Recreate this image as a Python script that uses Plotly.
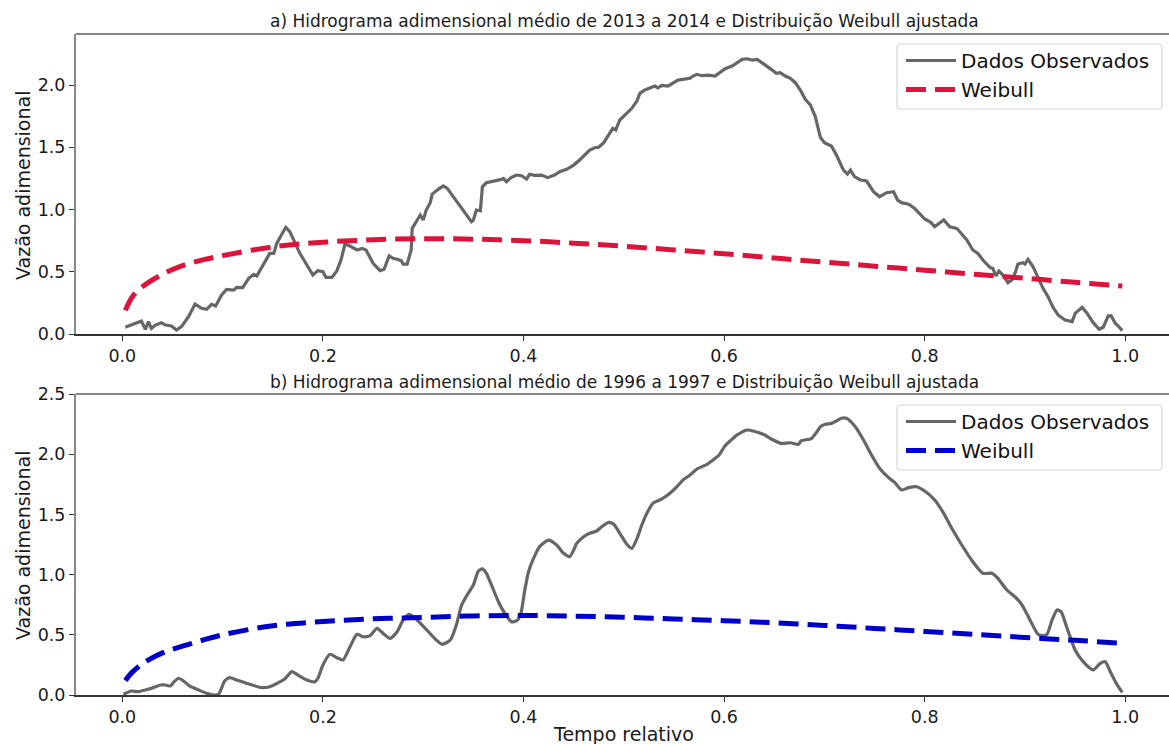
import plotly.graph_objects as go

# ---- (a) 2013-2014 ----
t_obs_a = [0.003, 0.011, 0.019, 0.023, 0.026, 0.029, 0.033, 0.039, 0.043, 0.049, 0.054, 0.059, 0.066, 0.0725,
           0.079, 0.084, 0.089, 0.093, 0.099, 0.104, 0.111, 0.114, 0.12, 0.126, 0.131, 0.134, 0.139, 0.144,
           0.147, 0.151, 0.154, 0.158, 0.163, 0.167, 0.172, 0.177, 0.184, 0.19, 0.195, 0.2, 0.203, 0.209,
           0.214, 0.218, 0.222, 0.227, 0.234, 0.239, 0.243, 0.25, 0.257, 0.261, 0.266, 0.27, 0.274, 0.278,
           0.28, 0.284, 0.288, 0.289, 0.293, 0.297, 0.3, 0.303, 0.307, 0.309, 0.315, 0.32, 0.324, 0.33,
           0.337, 0.343, 0.348, 0.35, 0.353, 0.357, 0.359, 0.363, 0.368, 0.373, 0.378, 0.38, 0.383, 0.388,
           0.393, 0.398, 0.403, 0.406, 0.411, 0.418, 0.424, 0.431, 0.436, 0.443, 0.45, 0.456, 0.461, 0.466,
           0.471, 0.475, 0.48, 0.485, 0.489, 0.492, 0.496, 0.501, 0.508, 0.513, 0.516, 0.521, 0.526, 0.531,
           0.534, 0.538, 0.544, 0.549, 0.554, 0.559, 0.563, 0.566, 0.569, 0.573, 0.578, 0.584, 0.591, 0.596,
           0.601, 0.608, 0.613, 0.618, 0.623, 0.628, 0.633, 0.638, 0.643, 0.647, 0.652, 0.656, 0.661, 0.666,
           0.671, 0.676, 0.681, 0.686, 0.691, 0.696, 0.7, 0.707, 0.712, 0.719, 0.723, 0.726, 0.73, 0.736,
           0.742, 0.749, 0.755, 0.762, 0.769, 0.773, 0.777, 0.784, 0.79, 0.8, 0.806, 0.81, 0.819, 0.825,
           0.832, 0.842, 0.848, 0.853, 0.858, 0.865, 0.868, 0.871, 0.874, 0.878, 0.883, 0.887, 0.89, 0.893,
           0.898, 0.9, 0.903, 0.908, 0.913, 0.918, 0.923, 0.928, 0.933, 0.94, 0.947, 0.95, 0.957, 0.962,
           0.968, 0.974, 0.978, 0.983, 0.986, 0.99, 0.993, 0.997]
q_obs_a = [0.054, 0.08, 0.104, 0.037, 0.099, 0.045, 0.072, 0.091, 0.072, 0.064, 0.032, 0.059, 0.139, 0.241,
           0.206, 0.198, 0.238, 0.225, 0.313, 0.359, 0.353, 0.375, 0.372, 0.447, 0.479, 0.466, 0.54, 0.616,
           0.648, 0.648, 0.728, 0.787, 0.857, 0.822, 0.728, 0.648, 0.554, 0.474, 0.509, 0.5, 0.455, 0.455,
           0.509, 0.594, 0.723, 0.707, 0.675, 0.688, 0.675, 0.568, 0.509, 0.52, 0.627, 0.608, 0.6, 0.589,
           0.562, 0.562, 0.675, 0.849, 0.902, 0.956, 0.916, 0.996, 1.055, 1.124, 1.162, 1.189, 1.17, 1.103,
           1.025, 0.948, 0.902, 0.916, 0.996, 0.99, 1.183, 1.215, 1.223, 1.237, 1.242, 1.25, 1.223, 1.258,
           1.277, 1.271, 1.245, 1.283, 1.274, 1.277, 1.256, 1.277, 1.304, 1.323, 1.357, 1.398, 1.438, 1.478,
           1.496, 1.5, 1.537, 1.598, 1.652, 1.639, 1.719, 1.759, 1.813, 1.871, 1.933, 1.96, 1.978, 1.992,
           1.978, 1.997, 1.992, 2.014, 2.04, 2.046, 2.054, 2.054, 2.072, 2.086, 2.075, 2.08, 2.072, 2.099,
           2.131, 2.153, 2.179, 2.206, 2.211, 2.201, 2.206, 2.179, 2.155, 2.126, 2.094, 2.099, 2.072, 2.054,
           2.019, 1.96, 1.885, 1.84, 1.745, 1.58, 1.537, 1.51, 1.438, 1.317, 1.285, 1.317, 1.264, 1.237,
           1.229, 1.143, 1.103, 1.135, 1.143, 1.076, 1.055, 1.042, 1.009, 0.924, 0.897, 0.862, 0.916, 0.862,
           0.849, 0.755, 0.675, 0.648, 0.594, 0.536, 0.527, 0.466, 0.506, 0.474, 0.412, 0.434, 0.487, 0.562,
           0.573, 0.562, 0.6, 0.541, 0.455, 0.367, 0.3, 0.214, 0.153, 0.112, 0.099, 0.166, 0.214, 0.166,
           0.091, 0.038, 0.054, 0.145, 0.145, 0.086, 0.064, 0.027]

# ---- (b) 1996-1997 ----
t_obs_b = [0.001, 0.009, 0.016, 0.023, 0.029, 0.038, 0.043, 0.048, 0.051, 0.056, 0.061, 0.067, 0.076, 0.084,
           0.092, 0.096, 0.102, 0.107, 0.114, 0.127, 0.139, 0.147, 0.156, 0.162, 0.169, 0.175, 0.184, 0.192,
           0.195, 0.2, 0.207, 0.214, 0.22, 0.227, 0.234, 0.24, 0.247, 0.254, 0.26, 0.267, 0.274, 0.28,
           0.286, 0.292, 0.302, 0.312, 0.319, 0.327, 0.333, 0.338, 0.343, 0.35, 0.355, 0.359, 0.363, 0.368,
           0.375, 0.382, 0.388, 0.393, 0.397, 0.401, 0.405, 0.41, 0.416, 0.425, 0.433, 0.44, 0.446, 0.45,
           0.453, 0.46, 0.466, 0.473, 0.478, 0.485, 0.49, 0.496, 0.503, 0.508, 0.513, 0.518, 0.523, 0.529,
           0.538, 0.546, 0.553, 0.559, 0.566, 0.573, 0.583, 0.589, 0.595, 0.601, 0.606, 0.613, 0.623, 0.629,
           0.639, 0.649, 0.657, 0.666, 0.674, 0.677, 0.687, 0.692, 0.696, 0.701, 0.707, 0.712, 0.717, 0.722,
           0.727, 0.732, 0.739, 0.747, 0.755, 0.764, 0.77, 0.777, 0.784, 0.792, 0.8, 0.81, 0.819, 0.827,
           0.837, 0.848, 0.858, 0.867, 0.873, 0.882, 0.89, 0.897, 0.905, 0.913, 0.918, 0.922, 0.927, 0.932,
           0.936, 0.942, 0.95, 0.958, 0.968, 0.975, 0.98, 0.985, 0.991, 0.997]
q_obs_b = [0.006, 0.033, 0.028, 0.042, 0.055, 0.083, 0.083, 0.075, 0.105, 0.139, 0.116, 0.075, 0.042, 0.014,
           0.0, 0.006, 0.116, 0.144, 0.125, 0.089, 0.061, 0.069, 0.105, 0.133, 0.194, 0.166, 0.125, 0.11,
           0.139, 0.249, 0.338, 0.31, 0.291, 0.401, 0.504, 0.484, 0.493, 0.554, 0.512, 0.471, 0.526, 0.623,
           0.67, 0.637, 0.554, 0.465, 0.421, 0.457, 0.581, 0.74, 0.82, 0.914, 1.03, 1.047, 1.011, 0.914,
           0.775, 0.67, 0.609, 0.615, 0.664, 0.858, 1.024, 1.135, 1.232, 1.287, 1.246, 1.177, 1.149, 1.204,
           1.26, 1.315, 1.343, 1.362, 1.398, 1.434, 1.418, 1.343, 1.252, 1.218, 1.296, 1.412, 1.509, 1.592,
           1.628, 1.675, 1.73, 1.786, 1.827, 1.877, 1.916, 1.952, 1.993, 2.071, 2.11, 2.16, 2.201, 2.193,
           2.165, 2.118, 2.09, 2.095, 2.082, 2.112, 2.13, 2.18, 2.228, 2.248, 2.256, 2.276, 2.298, 2.298,
           2.265, 2.215, 2.118, 1.993, 1.883, 1.805, 1.766, 1.703, 1.722, 1.73, 1.694, 1.62, 1.509, 1.385,
           1.246, 1.107, 1.011, 1.011, 0.969, 0.872, 0.816, 0.748, 0.623, 0.504, 0.493, 0.504, 0.623, 0.706,
           0.692, 0.554, 0.374, 0.277, 0.208, 0.263, 0.277, 0.194, 0.097, 0.022]

# fitted Weibull curves
t_fit = [0.003, 0.01, 0.02, 0.04, 0.06, 0.08, 0.1, 0.15, 0.2, 0.25, 0.3, 0.35, 0.4, 0.45, 0.5, 0.55,
         0.6, 0.65, 0.7, 0.75, 0.8, 0.85, 0.9, 0.95, 0.997]
q_fit_a = [0.19, 0.30, 0.38, 0.48, 0.55, 0.595, 0.63, 0.70, 0.737, 0.757, 0.766, 0.762, 0.75, 0.73, 0.705,
           0.675, 0.645, 0.61, 0.578, 0.545, 0.513, 0.48, 0.448, 0.415, 0.385]
q_fit_b = [0.12, 0.19, 0.26, 0.35, 0.405, 0.455, 0.50, 0.575, 0.61, 0.633, 0.644, 0.657, 0.66, 0.655, 0.645,
           0.632, 0.617, 0.6, 0.578, 0.553, 0.528, 0.503, 0.478, 0.454, 0.43]

titles = ["a) Hidrograma adimensional médio de 2013 a 2014 e Distribuição Weibull ajustada",
          "b) Hidrograma adimensional médio de 1996 a 1997 e Distribuição Weibull ajustada"]
x_ticks = [0.0, 0.2, 0.4, 0.6, 0.8, 1.0]
y_ticks_a = [0.0, 0.5, 1.0, 1.5, 2.0]
y_ticks_b = [0.0, 0.5, 1.0, 1.5, 2.0, 2.5]

W, H = 1169, 744
FONT = "DejaVu Sans"
GRAY = "#666666"

fig = go.Figure()

fig.add_trace(go.Scatter(x=t_obs_a, y=q_obs_a, mode="lines", name="Dados Observados",
                         line=dict(color=GRAY, width=3.2), xaxis="x", yaxis="y", legend="legend"))
fig.add_trace(go.Scatter(x=t_fit, y=q_fit_a, mode="lines", name="Weibull",
                         line=dict(color="#DC143C", width=5, dash="20px,9px", shape="spline"),
                         xaxis="x", yaxis="y", legend="legend"))
fig.add_trace(go.Scatter(x=t_obs_b, y=q_obs_b, mode="lines", name="Dados Observados",
                         line=dict(color=GRAY, width=3.2, shape="spline", smoothing=0.6),
                         xaxis="x2", yaxis="y2", legend="legend2"))
fig.add_trace(go.Scatter(x=t_fit, y=q_fit_b, mode="lines", name="Weibull",
                         line=dict(color="#0000CD", width=5, dash="20px,9px", shape="spline"),
                         xaxis="x2", yaxis="y2", legend="legend2"))

x0_px = 76
xdom = [x0_px / W, 1.0]
ydom_a = [(H - 334) / H, (H - 34) / H]
ydom_b = [(H - 695) / H, (H - 394) / H]
xrange_ = [-0.0462, 1.0436]

def xaxis_cfg(anchor):
    return dict(domain=xdom, range=xrange_, anchor=anchor, tickvals=x_ticks,
                ticktext=[f"{v:.1f}" for v in x_ticks], showgrid=False, zeroline=False,
                showline=True, linecolor="#333333", linewidth=1.5, mirror=False,
                ticks="outside", ticklen=5, tickwidth=1.2, tickcolor="#333333",
                tickfont=dict(family=FONT, size=17.5, color="#1a1a1a"), automargin=False)

def yaxis_cfg(anchor, dom, rng, ticks):
    return dict(domain=dom, range=rng, anchor=anchor, tickvals=ticks,
                ticktext=[f"{v:.1f}" for v in ticks], showgrid=False, zeroline=False,
                showline=True, linecolor="#888888", linewidth=2, mirror=False,
                ticks="outside", ticklen=5, tickwidth=1.2, tickcolor="#333333",
                tickfont=dict(family=FONT, size=17.5, color="#1a1a1a"), automargin=False)

legend_style = dict(bgcolor="rgba(0,0,0,0)", borderwidth=0,
                    font=dict(family=FONT, size=20, color="#111111"), xanchor="left", yanchor="top",
                    x=901 / W, tracegroupgap=0, itemwidth=50)

fig.update_layout(
    width=W, height=H, margin=dict(l=0, r=0, t=0, b=0),
    paper_bgcolor="white", plot_bgcolor="white",
    font=dict(family=FONT, color="#1a1a1a"),
    xaxis=xaxis_cfg("y"), yaxis=yaxis_cfg("x", ydom_a, [0, 2.41], y_ticks_a),
    xaxis2=xaxis_cfg("y2"), yaxis2=yaxis_cfg("x2", ydom_b, [0, 2.5], y_ticks_b),
    legend=dict(**legend_style, y=(H - 41) / H),
    legend2=dict(**legend_style, y=(H - 402) / H),
)

# top spines
for xr, yr in (("x domain", "y domain"), ("x2 domain", "y2 domain")):
    fig.add_shape(type="line", xref=xr, yref=yr, x0=0, x1=1, y0=1, y1=1,
                  line=dict(color="#888888", width=2))

# rounded legend frames
def frame(x0, y0, x1, y1, r=4):
    X = lambda px: px / W
    Y = lambda py: (H - py) / H
    path = (f"M {X(x0 + r)},{Y(y0)} L {X(x1 - r)},{Y(y0)} Q {X(x1)},{Y(y0)} {X(x1)},{Y(y0 + r)} "
            f"L {X(x1)},{Y(y1 - r)} Q {X(x1)},{Y(y1)} {X(x1 - r)},{Y(y1)} "
            f"L {X(x0 + r)},{Y(y1)} Q {X(x0)},{Y(y1)} {X(x0)},{Y(y1 - r)} "
            f"L {X(x0)},{Y(y0 + r)} Q {X(x0)},{Y(y0)} {X(x0 + r)},{Y(y0)} Z")
    fig.add_shape(type="path", path=path, xref="paper", yref="paper", layer="above",
                  line=dict(color="#d6d6d6", width=1.2), fillcolor="rgba(255,255,255,0.8)")

frame(897, 44, 1162, 109)
frame(897, 405, 1162, 470)

def label(text, xpx, ypx, size, angle=0):
    fig.add_annotation(text=text, x=xpx / W, y=(H - ypx) / H, xref="paper", yref="paper",
                       xanchor="center", yanchor="middle", showarrow=False, textangle=angle,
                       font=dict(family=FONT, size=size, color="#1a1a1a"))

# subplot titles and axis labels
mid_px = (x0_px + 1172) / 2
label(titles[0], mid_px, 21, 17)
label(titles[1], mid_px, 382, 17)
label("Vazão adimensional", 23, 186, 19, -90)
label("Vazão adimensional", 23, 546, 19, -90)
label("Tempo relativo", 623.5, 734, 19)

fig.write_html("out.html")
